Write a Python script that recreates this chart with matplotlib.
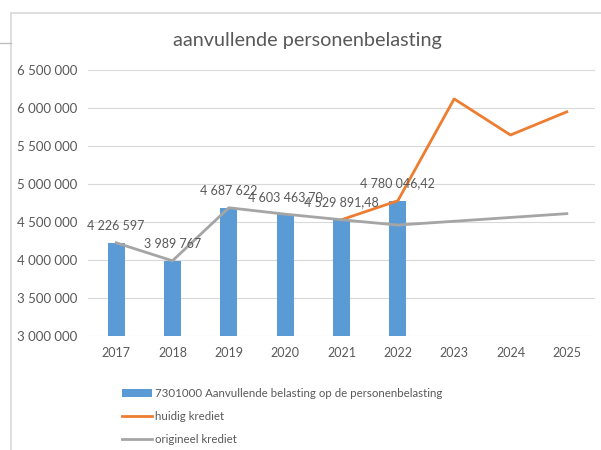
import numpy as np
import matplotlib.pyplot as plt
from matplotlib.ticker import FuncFormatter
from matplotlib.lines import Line2D

plt.rcParams['font.family'] = ['Lato', 'DejaVu Sans']

jaren = ['2017', '2018', '2019', '2020', '2021', '2022', '2023', '2024', '2025']
belasting = [4226597, 3989767, 4687622, 4603463.70, 4529891.48, 4780046.42]
belasting_labels = ['4 226 597', '3 989 767', '4 687 622', '4 603 463,70', '4 529 891,48', '4 780 046,42']
huidig = [np.nan, np.nan, np.nan, np.nan, 4529891.48, 4780046.42, 6120000, 5645000, 5950000]
origineel = [4226597, 3989767, 4687622, 4603463.70, 4529891.48, 4460000, 4510000, 4560000, 4610000]

tekst = '#595959'
fig = plt.figure(figsize=(6.01, 4.5), dpi=100)
ax = fig.add_axes([0.1464, 0.2533, 0.8436, 0.5911])

x = np.arange(len(jaren))
staaf = ax.bar(x[:len(belasting)], belasting, width=0.3, color='#5B9BD5', zorder=2)
lijn1, = ax.plot(x, huidig, color='#ED7D31', lw=2.0, zorder=3)
lijn2, = ax.plot(x, origineel, color='#A5A5A5', lw=2.0, zorder=3)

for xi, v, lab in zip(x, belasting, belasting_labels):
    ax.annotate(lab, (xi, v), xytext=(0, 8), textcoords='offset points',
                ha='center', va='bottom', fontsize=9, color=tekst, zorder=4)

ax.set_xlim(-0.5, len(jaren) - 0.5)
ax.set_ylim(3000000, 6500000)
ax.set_yticks(np.arange(3000000, 6500001, 500000))
ax.yaxis.set_major_formatter(FuncFormatter(lambda v, p: f'{int(v):,}'.replace(',', ' ')))
ax.set_xticks(x)
ax.set_xticklabels(jaren)
ax.tick_params(axis='x', length=0, labelsize=9, colors=tekst, pad=8)
ax.tick_params(axis='y', length=0, labelsize=9.5, colors=tekst, pad=8)
ax.grid(axis='y', color='#D9D9D9', lw=0.8, zorder=0)
for s in ax.spines.values():
    s.set_visible(False)

fig.text(0.512, 0.91, 'aanvullende personenbelasting', ha='center', va='center',
         fontsize=14.3, color=tekst)

fig.legend([staaf, lijn1, lijn2],
           ['7301000 Aanvullende belasting op de personenbelasting', 'huidig krediet', 'origineel krediet'],
           loc='upper left', bbox_to_anchor=(0.194, 0.15), frameon=False,
           fontsize=8.3, labelcolor=tekst, handlelength=2.6, handletextpad=0.2,
           labelspacing=1.05, borderpad=0)

# rand van het grafiekvak
fig.add_artist(Line2D([11 / 601, 11 / 601], [0, 1 - 13 / 450], color='#D9D9D9', lw=1.2))
fig.add_artist(Line2D([11 / 601, 1], [1 - 13 / 450, 1 - 13 / 450], color='#D9D9D9', lw=1.2))
fig.add_artist(Line2D([0, 11 / 601], [1 - 43 / 450, 1 - 43 / 450], color='#BFBFBF', lw=1.0))

fig.savefig('out.png', dpi=100)
